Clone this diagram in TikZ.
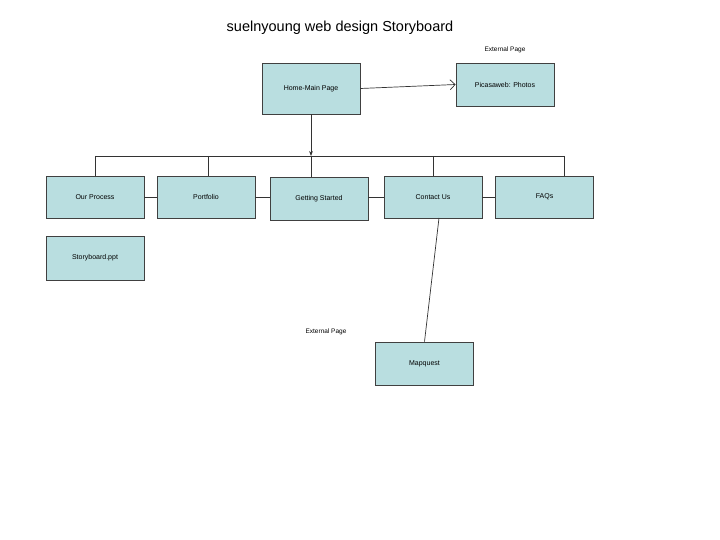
\documentclass[tikz,border=0pt]{standalone}
\usepackage{fontspec}
\setmainfont{Liberation Sans}
\usetikzlibrary{arrows.meta}
\definecolor{boxfill}{HTML}{B9DEE0}
\begin{document}
\begin{tikzpicture}[x=1pt,y=-1pt,
  pg/.style={draw=black!75,line width=0.8pt,fill=boxfill,minimum width=98pt,minimum height=#1,inner sep=0pt,font=\fontsize{7}{8}\selectfont},
  pg/.default=42pt,
  ln/.style={draw=black!80,line width=0.7pt}]
\useasboundingbox (0,0) rectangle (720,540);
\node[font=\fontsize{14.5}{16}\selectfont] (title) at (340,28) {suelnyoung web design Storyboard};
\node[font=\fontsize{6.5}{8}\selectfont] (ext1) at (505,50) {External Page};
\node[font=\fontsize{6.5}{8}\selectfont] (ext2) at (326,332) {External Page};
\node[pg=51pt] (home) at (311,88.5) {Home-Main Page};
\node[pg=43pt] (pic) at (505,84.5) {Picasaweb: Photos};
\node[pg] (proc) at (95,197) {Our Process};
\node[pg] (port) at (206,197) {Portfolio};
\node[pg=43pt] (gs) at (319,198.5) {Getting Started};
\node[pg] (cont) at (433,197) {Contact Us};
\node[pg] (faq) at (544.5,197) {FAQs};
\node[pg=44pt] (sb) at (95,258) {Storyboard.ppt};
\node[pg=43pt] (map) at (424.5,363.5) {Mapquest};
\coordinate (bl) at (95,156);
\coordinate (br) at (564,156);
\draw[ln,-{Stealth[length=5pt]}] (home.south) -- (home.south |- bl);
\draw[ln,-{Straight Barb[length=5pt]}] (home.east) -- (pic.west);
\draw[ln] (bl) -- (br);
\draw[ln] (bl) -- (proc.north);
\draw[ln] (208,156) -- (208,176);
\draw[ln] (311,156) -- (311,177);
\draw[ln] (433,156) -- (cont.north);
\draw[ln] (br) -- (564,176);
\draw[ln] (proc.east) -- (port.west);
\draw[ln] (port.east) -- (gs.west|-port.east);
\draw[ln] (gs.east|-cont.west) -- (cont.west);
\draw[ln] (cont.east) -- (faq.west);
\draw[ln] (439,218) -- (map.north);
\end{tikzpicture}
\end{document}
